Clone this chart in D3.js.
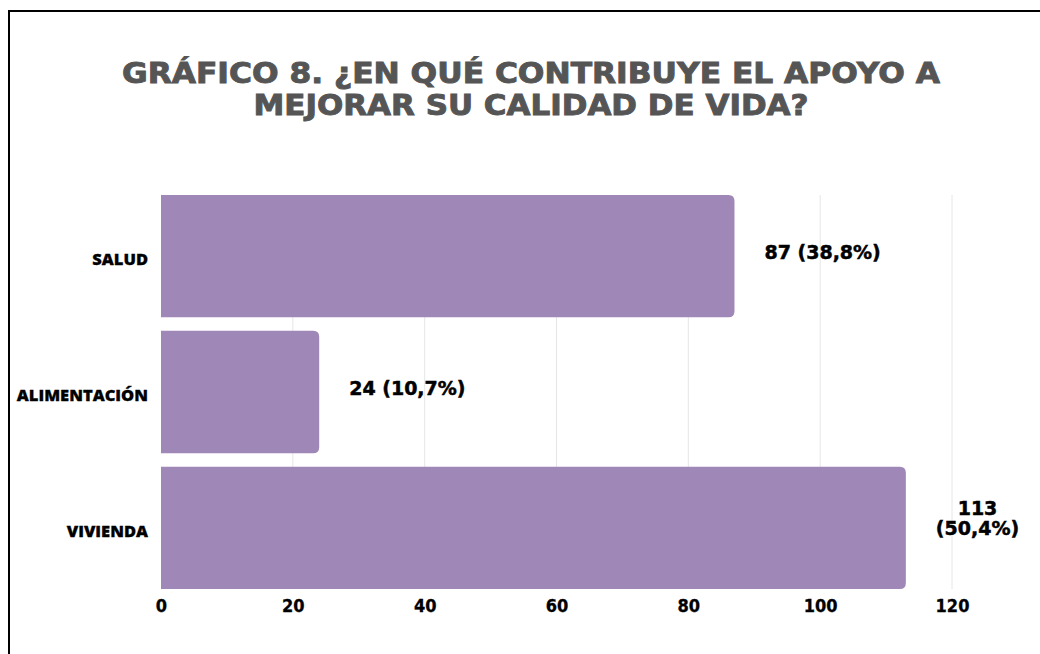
<!DOCTYPE html>
<html lang="es">

<head>
    <meta charset="UTF-8">
    <title>Gráfico 8</title>
    <script src="https://d3js.org/d3.v7.min.js"></script>
    <style>
        html,
        body {
            margin: 0;
            padding: 0;
            background: white;
        }

        svg {
            display: block;
        }
    </style>
</head>

<body>
    <svg width="1040" height="654"></svg>
    <script>
        // Données
        const categories = ["SALUD", "ALIMENTACIÓN", "VIVIENDA"];
        const values = [87, 24, 113];
        const percents = ["38,8%", "10,7%", "50,4%"];
        const xTicks = [0, 20, 40, 60, 80, 100, 120];
        const titleLines = ["GRÁFICO 8. ¿EN QUÉ CONTRIBUYE EL APOYO A", "MEJORAR SU CALIDAD DE VIDA?"];

        const W = 1040, H = 654;
        const svg = d3.select("svg");
        const barColor = "#9f88b8";

        // cadre
        svg.append("rect")
            .attr("x", 9).attr("y", 11)
            .attr("width", W + 50).attr("height", H + 50)
            .attr("fill", "none")
            .attr("stroke", "#000")
            .attr("stroke-width", 2);

        // titre (largeurs calées sur l'image)
        const titleWidths = [818, 555];
        svg.append("g")
            .attr("font-family", "'DejaVu Sans', sans-serif")
            .attr("font-weight", "bold")
            .attr("font-size", 27.5)
            .attr("fill", "#555555")
            .attr("stroke", "#555555")
            .attr("stroke-width", 0.9)
            .selectAll("text")
            .data(titleLines)
            .join("text")
            .attr("text-anchor", "middle")
            .attr("x", 531)
            .attr("y", (d, i) => 83 + i * 32)
            .attr("textLength", (d, i) => titleWidths[i])
            .attr("lengthAdjust", "spacingAndGlyphs")
            .text(d => d);

        const x = d3.scaleLinear().domain([0, 120]).range([161, 952]);
        const y = d3.scaleBand().domain(categories).range([195, 589]).paddingInner(0.1).paddingOuter(0);

        // grille verticale
        svg.append("g")
            .selectAll("line")
            .data(xTicks.filter(d => d > 0))
            .join("line")
            .attr("x1", d => x(d)).attr("x2", d => x(d))
            .attr("y1", 195).attr("y2", 589)
            .attr("stroke", "#e6e6e6")
            .attr("stroke-width", 1);

        // barres arrondies à droite
        const r = 6;
        function barPath(x0, x1, y0, h) {
            return `M${x0},${y0}H${x1 - r}Q${x1},${y0} ${x1},${y0 + r}V${y0 + h - r}Q${x1},${y0 + h} ${x1 - r},${y0 + h}H${x0}Z`;
        }
        const data = categories.map((c, i) => ({ cat: c, v: values[i], pct: percents[i] }));

        svg.append("g")
            .selectAll("path")
            .data(data)
            .join("path")
            .attr("d", d => barPath(x(0), x(d.v), y(d.cat), y.bandwidth()))
            .attr("fill", barColor);

        // axe X
        const xAxis = svg.append("g")
            .attr("transform", "translate(0,589)")
            .call(d3.axisBottom(x).tickValues(xTicks).tickSize(0).tickPadding(10));
        xAxis.select(".domain").remove();
        xAxis.selectAll("text")
            .attr("font-family", "'DejaVu Sans Condensed', sans-serif")
            .attr("font-weight", "bold")
            .attr("font-size", 18)
            .attr("fill", "#000")
            .attr("stroke", "#000")
            .attr("stroke-width", 0.3);

        // axe Y
        const yAxis = svg.append("g")
            .attr("transform", "translate(161,0)")
            .call(d3.axisLeft(y).tickSize(0).tickPadding(13));
        yAxis.select(".domain").remove();
        yAxis.selectAll("text")
            .attr("font-family", "'Open Sans', sans-serif")
            .attr("font-weight", 800)
            .attr("font-size", 16.5)
            .attr("fill", "#000")
            .attr("stroke", "#000")
            .attr("stroke-width", 0.3)
            .attr("dy", "0.55em");

        // étiquettes de valeurs
        const gap = 30;
        const labels = svg.append("g")
            .attr("font-family", "'DejaVu Sans', sans-serif")
            .attr("font-weight", "bold")
            .attr("font-size", 19)
            .attr("fill", "#000")
            .attr("stroke", "#000")
            .attr("stroke-width", 0.5);

        data.forEach(d => {
            const full = `${d.v} (${d.pct})`;
            const t = labels.append("text").attr("text-anchor", "middle").text(full);
            let w = t.node().getComputedTextLength();
            let lines = [full];
            if (x(d.v) + gap + w > W - 10) {
                lines = [`${d.v}`, `(${d.pct})`];
                t.text(lines[1]);
                w = t.node().getComputedTextLength();
            }
            t.text(null);
            const cx = x(d.v) + gap + w / 2;
            const cy = y(d.cat) + y.bandwidth() / 2 - (lines.length > 1 ? 10 : 4);
            const lh = 20;
            t.selectAll("tspan")
                .data(lines)
                .join("tspan")
                .attr("x", cx)
                .attr("y", (l, i) => cy + 7 + (i - (lines.length - 1) / 2) * lh)
                .text(l => l);
        });
    </script>
</body>

</html>
